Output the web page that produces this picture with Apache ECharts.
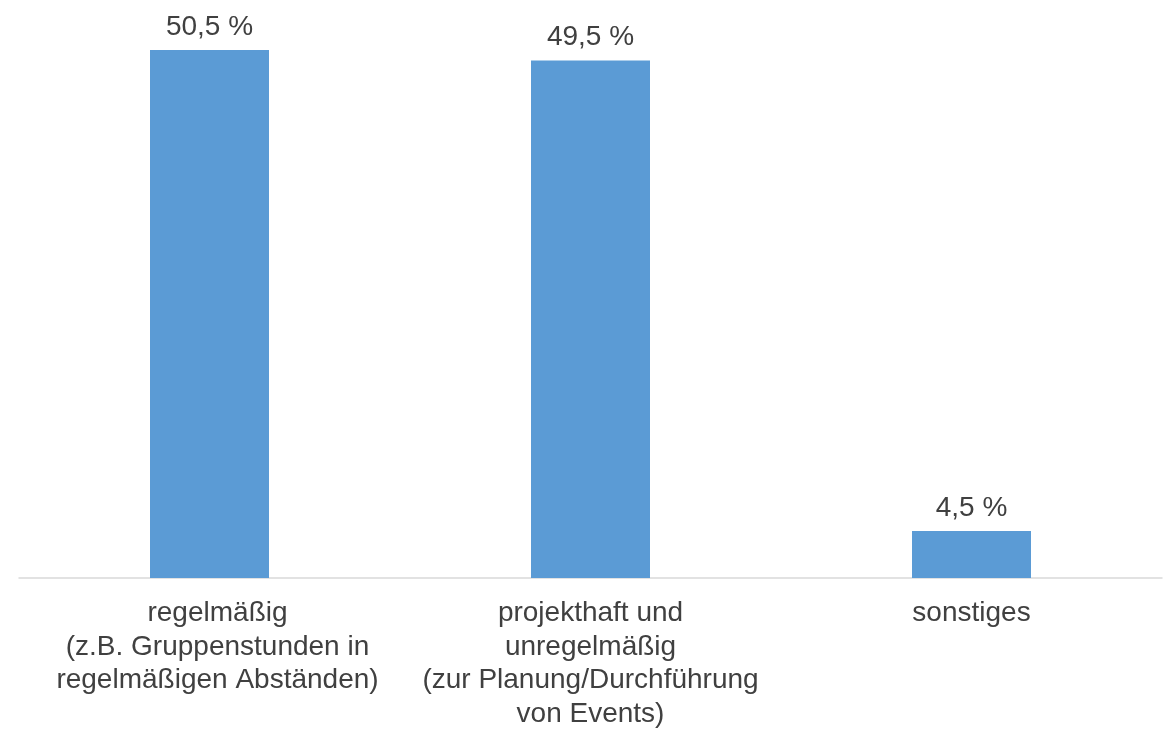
<!DOCTYPE html>
<html>
<head>
<meta charset="utf-8">
<script src="https://cdn.jsdelivr.net/npm/echarts@6/dist/echarts.min.js"></script>
<style>
  html, body { margin: 0; padding: 0; background: #fff; }
  #main { width: 1168px; height: 731px; }
</style>
</head>
<body>
<div id="main"></div>
<script>
const categories = [
    'regelmäßig\n(z.B. Gruppenstunden in\nregelmäßigen Abständen)',
    'projekthaft und\nunregelmäßig\n(zur Planung/Durchführung\nvon Events)',
    'sonstiges'
];
const values = [50.5, 49.5, 4.5];

// first label sits slightly right of its bar in the original
const categoryItems = categories.map(function (c, i) {
    return i === 0 ? { value: c, textStyle: { padding: [0, 0, 0, 16] } } : c;
});

const option = {
    animation: false,
    grid: { left: 19, right: 6, top: 3, bottom: 152, containLabel: false },
    xAxis: {
        type: 'category',
        data: categoryItems,
        axisLine: { lineStyle: { color: '#d9d9d9', width: 1.5 } },
        axisTick: { show: false },
        axisLabel: {
            color: '#404040',
            fontFamily: 'Liberation Sans, Arial, sans-serif',
            fontSize: 28,
            lineHeight: 33.5,
            margin: 19,
            interval: 0
        }
    },
    yAxis: {
        type: 'value',
        min: 0,
        max: 55,
        show: false,
        splitLine: { show: false }
    },
    series: [{
        type: 'bar',
        data: values,
        barWidth: 119,
        itemStyle: { color: '#5b9bd5' },
        label: {
            show: true,
            position: 'top',
            distance: 9,
            color: '#404040',
            fontFamily: 'Liberation Sans, Arial, sans-serif',
            fontSize: 28,
            formatter: function (p) { return String(p.value).replace('.', ',') + ' %'; }
        }
    }]
};
const chart = echarts.init(document.getElementById('main'));
chart.setOption(option);
</script>
</body>
</html>
